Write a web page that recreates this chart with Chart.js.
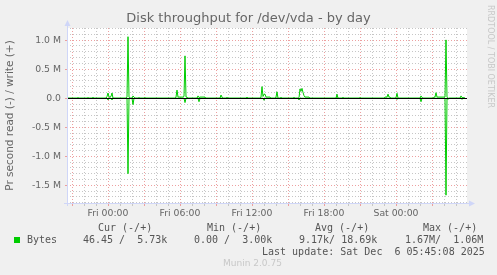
<!DOCTYPE html>
<html>
<head>
<meta charset="utf-8">
<script src="https://cdn.jsdelivr.net/npm/chart.js@4"></script>
<style>
body { margin: 0; background: #f0f0f0; }
#wrap { position: relative; width: 497px; height: 275px; overflow: hidden; }
canvas { position: absolute; left: 0; top: 0; }
.t { position: absolute; white-space: pre; color: #555; }
.mono { font-family: "DejaVu Sans Mono", monospace; font-size: 10px; line-height: 12px; }
</style>
</head>
<body>
<div id="wrap">
<canvas id="chart" width="497" height="275"></canvas>
<div class="t" id="title" style="left:0;width:497px;text-align:center;top:10px;font:13px 'DejaVu Sans';color:#666;">Disk throughput for /dev/vda - by day</div>
<div class="t" style="left:481px;top:5px;font:8px 'DejaVu Sans';color:#c8c8c8;transform-origin:0 0;transform:translate(14px,0) rotate(90deg);">RRDTOOL / TOBI OETIKER</div>
<div class="t mono" style="left:98px;top:222px;">Cur (-/+)</div>
<div class="t mono" style="left:207px;top:222px;">Min (-/+)</div>
<div class="t mono" style="left:315px;top:222px;">Avg (-/+)</div>
<div class="t mono" style="left:423px;top:222px;">Max (-/+)</div>
<div style="position:absolute;left:14px;top:237px;width:6px;height:6px;background:#00cc00;"></div>
<div class="t mono" style="left:27px;top:234px;">Bytes</div>
<div class="t mono" style="left:83px;top:234px;">46.45 /  5.73k</div>
<div class="t mono" style="left:194px;top:234px;">0.00 /  3.00k</div>
<div class="t mono" style="left:299px;top:234px;">9.17k/ 18.69k</div>
<div class="t mono" style="left:405px;top:234px;">1.67M/  1.06M</div>
<div class="t mono" style="left:262px;top:246px;">Last update: Sat Dec  6 05:45:08 2025</div>
<div class="t" style="left:223px;top:258px;font:9px 'DejaVu Sans';color:#c8c8c8;">Munin 2.0.75</div>
</div>
<script>
// minutes since Fri 00:00, 5 minute samples
const minutes = [-205, -155, -150, -145, -105, -100, -95, -80, -75, -70,
  -10, -5, 0, 5, 10, 15, 20, 25, 90, 95, 100, 105, 110, 120, 125, 130, 135,
  150, 155, 160, 180, 185, 190, 335, 340, 345, 350, 375, 380, 385, 390, 395, 400,
  445, 450, 455, 460, 485, 490, 560, 565, 570, 575, 590, 595, 600, 690, 695, 700,
  760, 765, 770, 775, 780, 785, 790, 810, 815, 835, 840, 845, 850, 860, 865, 870,
  925, 930, 935, 950, 955, 960, 965, 970, 975, 980, 985, 1005, 1010,
  1140, 1145, 1150, 1170, 1175, 1180, 1255, 1260, 1265,
  1380, 1385, 1395, 1400, 1405, 1410, 1415, 1435, 1440, 1445, 1450,
  1560, 1565, 1570, 1575, 1625, 1630, 1635, 1640, 1645, 1680, 1685, 1690, 1695, 1700, 1705,
  1760, 1765, 1770, 1775, 1780, 1785];

// write (+), kB/s
const writeK = [0, 0, 10, 0, 0, 10, 0, 0, 15, 0,
  0, 30, 90, 20, 20, 30, 90, 0, 0, 20, 1060, 20, 0, 0, 40, 20, 0,
  0, 10, 0, 0, 10, 0, 0, 20, 140, 20, 20, 30, 730, 20, 20, 0,
  0, 40, 10, 20, 20, 0, 0, 55, 20, 0, 0, 15, 0, 0, 20, 0,
  0, 20, 200, 30, 70, 70, 20, 20, 0, 0, 20, 110, 0, 0, 15, 0,
  0, 15, 0, 0, 10, 160, 120, 170, 100, 45, 20, 20, 0,
  0, 70, 0, 0, 15, 0, 0, 10, 0,
  0, 20, 20, 70, 20, 20, 0, 0, 10, 85, 0,
  0, 40, 10, 0, 0, 20, 20, 95, 20, 20, 20, 1005, 20, 0, 0,
  0, 40, 10, 10, 10, 0];

// read (-), kB/s
const readK = [0, 0, 0, 0, 0, 0, 0, 0, 0, 0,
  0, 0, 30, 0, 0, 0, 30, 0, 0, 0, 1300, 0, 0, 0, 110, 0, 0,
  0, 0, 0, 0, 0, 0, 0, 0, 0, 0, 0, 0, 75, 0, 0, 0,
  0, 0, 60, 0, 0, 0, 0, 0, 0, 0, 0, 0, 0, 0, 0, 0,
  0, 0, 0, 0, 35, 0, 0, 0, 0, 0, 0, 0, 0, 0, 0, 0,
  0, 0, 0, 0, 30, 0, 0, 0, 0, 0, 0, 0, 0,
  0, 0, 0, 0, 0, 0, 0, 0, 0,
  0, 0, 0, 0, 0, 0, 0, 0, 0, 20, 0,
  0, 60, 0, 0, 0, 0, 0, 0, 0, 0, 0, 1670, 0, 20, 0,
  0, 0, 20, 0, 0, 0];

const dayLabels = { 0: 'Fri 00:00', 360: 'Fri 06:00', 720: 'Fri 12:00', 1080: 'Fri 18:00', 1440: 'Sat 00:00' };
const yLabels = { '1000000': '1.0 M', '500000': '0.5 M', '0': '0.0', '-500000': '-0.5 M', '-1000000': '-1.0 M', '-1500000': '-1.5 M' };

const green = '#00cc00';
const majorGrid = 'rgba(235,150,150,0.9)';
const minorGrid = 'rgba(195,195,195,0.95)';
const axisColor = '#cfd6f8';

const writePts = minutes.map((m, i) => ({ x: m, y: writeK[i] * 1000 }));
const readPts = minutes.map((m, i) => ({ x: m, y: -readK[i] * 1000 }));

const decor = {
  id: 'decor',
  beforeDraw(chart) {
    const a = chart.chartArea, ctx = chart.ctx;
    ctx.save();
    ctx.fillStyle = '#ffffff';
    ctx.fillRect(a.left, a.top, a.right - a.left, a.bottom - a.top);
    ctx.restore();
  },
  afterDatasetsDraw(chart) {
    const a = chart.chartArea, ctx = chart.ctx;
    const y0 = Math.round(chart.scales.y.getPixelForValue(0)) + 0.5;
    ctx.save();
    ctx.strokeStyle = '#000000';
    ctx.lineWidth = 1;
    ctx.beginPath();
    ctx.moveTo(a.left, y0);
    ctx.lineTo(a.right, y0);
    ctx.stroke();
    // axis extensions and arrows
    ctx.strokeStyle = axisColor;
    ctx.fillStyle = axisColor;
    const xl = a.left + 0.5, yb = a.bottom + 0.5;
    ctx.beginPath();
    ctx.moveTo(xl, a.bottom + 3);
    ctx.lineTo(xl, a.top - 6);
    ctx.moveTo(a.left - 3, yb);
    ctx.lineTo(a.right + 6, yb);
    ctx.stroke();
    ctx.beginPath();
    ctx.moveTo(xl, a.top - 8);
    ctx.lineTo(xl - 3, a.top - 2);
    ctx.lineTo(xl + 3, a.top - 2);
    ctx.closePath();
    ctx.fill();
    ctx.beginPath();
    ctx.moveTo(a.right + 8, yb);
    ctx.lineTo(a.right + 2, yb - 3);
    ctx.lineTo(a.right + 2, yb + 3);
    ctx.closePath();
    ctx.fill();
    ctx.restore();
  }
};

new Chart(document.getElementById('chart'), {
  type: 'line',
  data: {
    datasets: [
      { label: 'Bytes', data: writePts, borderColor: green, borderWidth: 1, pointRadius: 0, tension: 0 },
      { label: 'Bytes read', data: readPts, borderColor: green, borderWidth: 1, pointRadius: 0, tension: 0 }
    ]
  },
  options: {
    responsive: false,
    animation: false,
    layout: { padding: { top: 28, right: 30, left: 0, bottom: 0 } },
    plugins: { legend: { display: false }, tooltip: { enabled: false }, title: { display: false } },
    scales: {
      x: {
        type: 'linear',
        min: -205,
        max: 1795,
        afterFit: s => { s.height = 72; },
        afterBuildTicks: s => {
          const t = [];
          for (let m = -180; m <= 1740; m += 60) t.push({ value: m });
          s.ticks = t;
        },
        ticks: {
          autoSkip: false,
          maxRotation: 0,
          padding: 2,
          color: '#666',
          font: { family: 'DejaVu Sans', size: 9.3 },
          callback: v => dayLabels[v] || ''
        },
        grid: {
          color: c => (c.tick && c.tick.value % 180 === 0) ? majorGrid : minorGrid,
          tickColor: c => (c.tick && c.tick.value % 180 === 0) ? majorGrid : minorGrid,
          tickLength: 3,
          lineWidth: 1
        },
        border: { display: false, dash: [1, 2] }
      },
      y: {
        type: 'linear',
        min: -1805000,
        max: 1210000,
        afterFit: s => { s.width = 67; },
        afterBuildTicks: s => {
          const t = [];
          for (let v = -18; v <= 12; v++) t.push({ value: v * 100000 });
          s.ticks = t;
        },
        ticks: {
          autoSkip: false,
          padding: 4,
          color: '#666',
          font: { family: 'DejaVu Sans', size: 9.3 },
          callback: v => yLabels[String(v)] || ''
        },
        grid: {
          color: c => (c.tick && c.tick.value % 500000 === 0) ? majorGrid : minorGrid,
          tickColor: c => (c.tick && c.tick.value % 500000 === 0) ? majorGrid : 'rgba(0,0,0,0)',
          tickLength: 2,
          lineWidth: 1
        },
        border: { display: false, dash: [1, 2] },
        title: {
          display: true,
          text: 'Pr second read (-) / write (+)',
          color: '#666',
          font: { family: 'DejaVu Sans', size: 10.5 },
          padding: { top: 4, bottom: 0 }
        }
      }
    }
  },
  plugins: [decor]
});
</script>
</body>
</html>
